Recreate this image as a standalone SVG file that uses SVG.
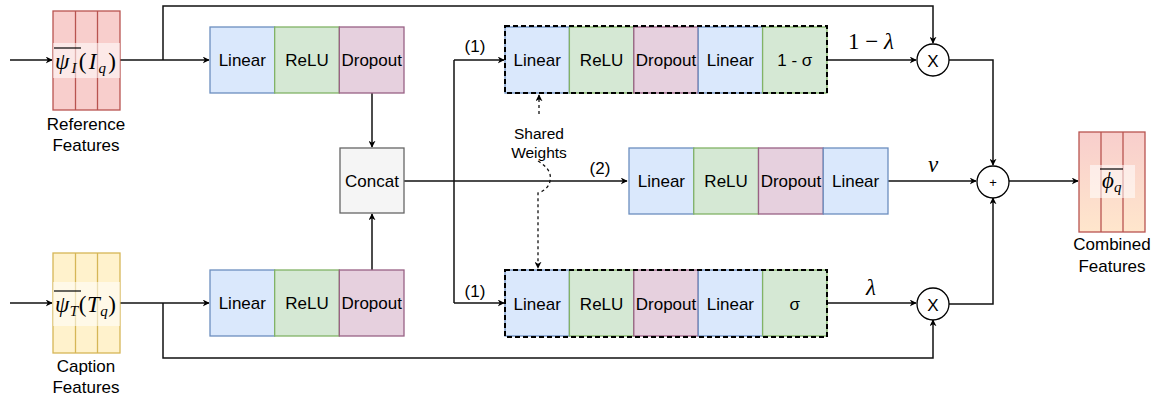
<svg xmlns="http://www.w3.org/2000/svg" width="1154" height="398" viewBox="0 0 1154 398">
<style>
text{font-family:"Liberation Sans",Arial,sans-serif;fill:#000}
.t{font-size:17px;text-anchor:middle;dominant-baseline:central}
.sw{font-size:15.5px;text-anchor:middle;dominant-baseline:central}
.m{font-family:"Liberation Serif","Times New Roman",serif;font-style:italic;font-size:23px}
.blue{fill:#dae8fc;stroke:#6c8ebf;stroke-width:1.3}
.green{fill:#d5e8d4;stroke:#82b366;stroke-width:1.3}
.pink{fill:#e6d0de;stroke:#996185;stroke-width:1.3}
.gray{fill:#f5f5f5;stroke:#666666;stroke-width:1.3}
.red{fill:#f8cecc;stroke:#b85450;stroke-width:1.3}
.yel{fill:#fff2cc;stroke:#d6b656;stroke-width:1.3}
.band{fill:#ffffff;fill-opacity:0.55;stroke:none}
.dash{fill:none;stroke:#000;stroke-width:2;stroke-dasharray:5 3}
.ln{fill:none;stroke:#111;stroke-width:1.5}
.ar{fill:none;stroke:#111;stroke-width:1.5;marker-end:url(#ah)}
.dl{fill:none;stroke:#111;stroke-width:1.3;stroke-dasharray:3 3}
.circ{fill:#fff;stroke:#000;stroke-width:1.3}
</style>
<defs>
<marker id="ah" viewBox="0 0 10 10" refX="9" refY="5" markerWidth="7" markerHeight="7" markerUnits="userSpaceOnUse" orient="auto">
<path d="M0,0 L10,5 L0,10 L3,5 Z" fill="#000"/>
</marker>
<linearGradient id="cg" x1="0" y1="0" x2="0" y2="1">
<stop offset="0" stop-color="#f8cecc"/>
<stop offset="1" stop-color="#ffe6cc"/>
</linearGradient>
</defs>

<g id="connectors">
<path class="ar" d="M10,60 H52"/>
<path class="ar" d="M10,303 H52"/>
<path class="ar" d="M120,60 H209"/>
<path class="ar" d="M120,303 H209"/>
<path class="ar" d="M163,60 V6 H933 V43"/>
<path class="ar" d="M163,303 V358 H933 V320"/>
<path class="ar" d="M372,93 V147"/>
<path class="ar" d="M372,270 V214"/>
<path class="ar" d="M404,181 H627"/>
<path class="ln" d="M454,60 V303"/>
<path class="ar" d="M454,60 H504"/>
<path class="ar" d="M454,303 H504"/>
<path class="ar" d="M827,60 H916"/>
<path class="ar" d="M827,303 H916"/>
<path class="ar" d="M888,181 H976"/>
<path class="ar" d="M949,60 H993 V165"/>
<path class="ar" d="M949,304 H993 V198"/>
<path class="ar" d="M1009,181 H1078"/>
<path class="dl" d="M539,114 V95" marker-end="url(#ah)"/>
<path class="dl" d="M538,161 C546,166 552,172 550,181 C549,188 542,192 538,193 V268" marker-end="url(#ah)"/>
</g>

<g id="reference-features">
<rect class="red" x="53" y="11" width="67" height="99"/>
<line x1="75.5" y1="11" x2="75.5" y2="110" stroke="#b85450" stroke-width="1.3"/>
<line x1="97.5" y1="11" x2="97.5" y2="110" stroke="#b85450" stroke-width="1.3"/>
<rect class="band" x="53" y="43" width="67" height="35"/>
<line x1="54" y1="48" x2="81" y2="48" stroke="#000" stroke-width="1.2"/>
<text class="m" x="55" y="69" textLength="61" lengthAdjust="spacing">ψ<tspan font-size="15" dy="4">I</tspan><tspan dy="-4" font-style="normal">(</tspan>I<tspan font-size="15" dy="4">q</tspan><tspan dy="-4" font-style="normal">)</tspan></text>
<text class="t" x="86" y="124">Reference</text>
<text class="t" x="86" y="145">Features</text>
</g>

<g id="caption-features">
<rect class="yel" x="53" y="253" width="67" height="100"/>
<line x1="75.5" y1="253" x2="75.5" y2="353" stroke="#d6b656" stroke-width="1.3"/>
<line x1="97.5" y1="253" x2="97.5" y2="353" stroke="#d6b656" stroke-width="1.3"/>
<rect class="band" x="53" y="282" width="67" height="44"/>
<line x1="54" y1="291" x2="81" y2="291" stroke="#000" stroke-width="1.2"/>
<text class="m" x="55" y="312" textLength="61" lengthAdjust="spacing">ψ<tspan font-size="15" dy="4">T</tspan><tspan dy="-4" font-style="normal">(</tspan>T<tspan font-size="15" dy="4">q</tspan><tspan dy="-4" font-style="normal">)</tspan></text>
<text class="t" x="86" y="366">Caption</text>
<text class="t" x="86" y="387">Features</text>
</g>

<g id="top-mlp">
<rect class="blue" x="210" y="27" width="64.67" height="66"/>
<rect class="green" x="274.67" y="27" width="64.67" height="66"/>
<rect class="pink" x="339.33" y="27" width="64.67" height="66"/>
<text class="t" x="242.3" y="60">Linear</text>
<text class="t" x="307" y="60">ReLU</text>
<text class="t" x="371.7" y="60">Dropout</text>
</g>

<g id="bottom-mlp">
<rect class="blue" x="210" y="270" width="64.67" height="66"/>
<rect class="green" x="274.67" y="270" width="64.67" height="66"/>
<rect class="pink" x="339.33" y="270" width="64.67" height="66"/>
<text class="t" x="242.3" y="303">Linear</text>
<text class="t" x="307" y="303">ReLU</text>
<text class="t" x="371.7" y="303">Dropout</text>
</g>

<g id="concat">
<rect class="gray" x="340" y="148" width="64" height="65"/>
<text class="t" x="372" y="181">Concat</text>
</g>

<g id="gate-top">
<rect class="blue" x="505" y="27" width="64.4" height="66"/>
<rect class="green" x="569.4" y="27" width="64.4" height="66"/>
<rect class="pink" x="633.8" y="27" width="64.4" height="66"/>
<rect class="blue" x="698.2" y="27" width="64.4" height="66"/>
<rect class="green" x="762.6" y="27" width="64.4" height="66"/>
<rect class="dash" x="505" y="26" width="322" height="67"/>
<text class="t" x="537.2" y="60">Linear</text>
<text class="t" x="601.6" y="60">ReLU</text>
<text class="t" x="666" y="60">Dropout</text>
<text class="t" x="730.4" y="60">Linear</text>
<text class="t" x="794.8" y="60">1 - σ</text>
</g>

<g id="gate-bottom">
<rect class="blue" x="505" y="270" width="64.4" height="66"/>
<rect class="green" x="569.4" y="270" width="64.4" height="66"/>
<rect class="pink" x="633.8" y="270" width="64.4" height="66"/>
<rect class="blue" x="698.2" y="270" width="64.4" height="66"/>
<rect class="green" x="762.6" y="270" width="64.4" height="66"/>
<rect class="dash" x="505" y="270" width="322" height="67"/>
<text class="t" x="537.2" y="304">Linear</text>
<text class="t" x="601.6" y="304">ReLU</text>
<text class="t" x="666" y="304">Dropout</text>
<text class="t" x="730.4" y="304">Linear</text>
<text class="t" x="794.8" y="304">σ</text>
</g>

<g id="value-mlp">
<rect class="blue" x="629" y="148" width="64.75" height="66"/>
<rect class="green" x="693.75" y="148" width="64.75" height="66"/>
<rect class="pink" x="758.5" y="148" width="64.75" height="66"/>
<rect class="blue" x="823.25" y="148" width="64.75" height="66"/>
<text class="t" x="661.4" y="181">Linear</text>
<text class="t" x="726.1" y="181">ReLU</text>
<text class="t" x="790.9" y="181">Dropout</text>
<text class="t" x="855.6" y="181">Linear</text>
</g>

<g id="labels">
<text class="t" x="475" y="46">(1)</text>
<text class="t" x="475" y="291">(1)</text>
<text class="t" x="600" y="168">(2)</text>
<text class="sw" x="539" y="133">Shared</text>
<text class="sw" x="539" y="152">Weights</text>
<text class="m" x="848" y="49"><tspan font-style="normal">1 −</tspan> λ</text>
<text class="m" x="928" y="172">v</text>
<text class="m" x="866" y="295">λ</text>
</g>

<g id="mul-top">
<circle class="circ" cx="933" cy="60" r="16"/>
<text class="t" x="933" y="61">X</text>
</g>
<g id="mul-bottom">
<circle class="circ" cx="933" cy="304" r="16"/>
<text class="t" x="933" y="305">X</text>
</g>
<g id="add">
<circle class="circ" cx="993" cy="182" r="16"/>
<text class="t" x="993" y="182" style="font-size:13px">+</text>
</g>

<g id="combined-features">
<rect x="1079" y="132" width="66" height="100" fill="url(#cg)" stroke="#b85450" stroke-width="1.3"/>
<line x1="1101" y1="132" x2="1101" y2="232" stroke="#b85450" stroke-width="1.3"/>
<line x1="1123" y1="132" x2="1123" y2="232" stroke="#b85450" stroke-width="1.3"/>
<rect class="band" x="1090" y="165" width="45" height="33"/>
<line x1="1100" y1="169" x2="1123" y2="169" stroke="#000" stroke-width="1.2"/>
<text class="m" x="1102" y="188">ϕ<tspan font-size="15" dy="4">q</tspan></text>
<text class="t" x="1112" y="244">Combined</text>
<text class="t" x="1112" y="266">Features</text>
</g>
</svg>
